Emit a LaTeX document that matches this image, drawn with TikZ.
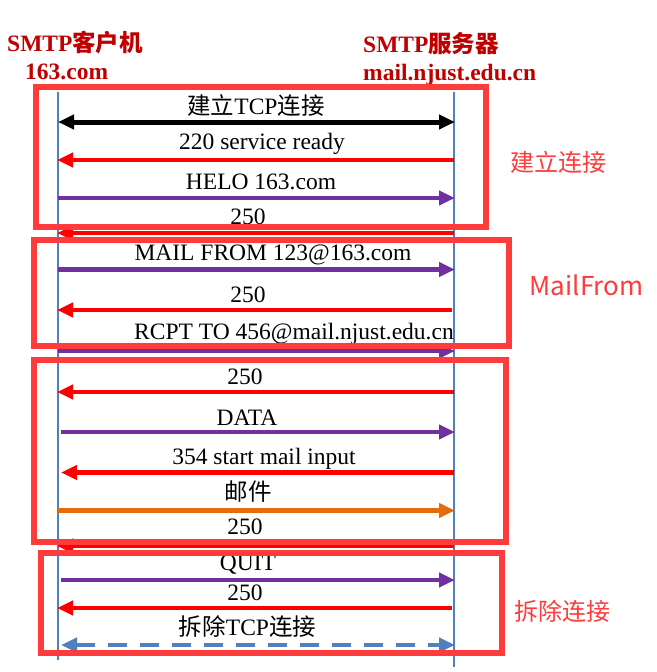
\documentclass[tikz,border=0pt]{standalone}
\usepackage{fontspec}
\setmainfont{Liberation Serif}
\newfontfamily\cjk{Noto Sans CJK SC}
\usetikzlibrary{arrows.meta}
\definecolor{boxred}{RGB}{255,59,59}
\definecolor{hostred}{RGB}{192,0,0}
\definecolor{msgpurple}{RGB}{112,48,160}
\definecolor{msgorange}{RGB}{228,108,10}
\definecolor{lifeblue}{RGB}{79,129,189}
\definecolor{msgred}{RGB}{255,0,0}
\tikzset{
  lifeline/.style={draw=lifeblue,line width=1.5pt},
  headtip/.tip={Triangle[length=16pt,width=14pt]},
  msgright/.style={line width=4.5pt,-headtip},
  msgleft/.style={line width=4.5pt,headtip-},
  msgboth/.style={line width=5pt,headtip-headtip},
  msglbl/.style={anchor=base,inner sep=0pt,font=\fontsize{23.5}{24}\selectfont},
  phasebox/.style={draw=boxred,line width=6pt,inner sep=0pt},
  phaselbl/.style={text=boxred,inner sep=0pt,font=\cjk\fontsize{24}{24}\selectfont},
  hostlbl/.style={anchor=base west,inner sep=0pt,text=hostred,font=\bfseries\fontsize{23.5}{24}\selectfont}
}
\begin{document}
\begin{tikzpicture}[x=1pt,y=-1pt]
\useasboundingbox (0,0) rectangle (656,672);

% host labels
\node[hostlbl] (h1) at (7,51) {SMTP{\cjk\bfseries 客户机}};
\node[hostlbl] (h2) at (25,79) {163.com};
\node[hostlbl] (h3) at (363,52) {SMTP{\cjk\bfseries 服务器}};
\node[hostlbl] (h4) at (363,80) {mail.njust.edu.cn};

% lifelines
\coordinate (ctop) at (58,92);
\coordinate (cbot) at (58,660);
\coordinate (stop) at (454,92);
\coordinate (sbot) at (454,667);
\draw[lifeline] (ctop) -- (cbot);
\draw[lifeline] (stop) -- (sbot);

% messages
\coordinate (c1) at (58,122);   \coordinate (s1) at (455,122);
\coordinate (c2) at (57,160);   \coordinate (s2) at (454,160);
\coordinate (c3) at (58,198);   \coordinate (s3) at (455,198);
\coordinate (c4) at (57,233);   \coordinate (s4) at (454,233);
\coordinate (c5) at (58,269.5); \coordinate (s5) at (455,269.5);
\coordinate (c6) at (57,310);   \coordinate (s6) at (452,310);
\coordinate (c7) at (58,351);   \coordinate (s7) at (455,351);
\coordinate (c8) at (57,392);   \coordinate (s8) at (454,392);
\coordinate (c9) at (61,432);   \coordinate (s9) at (455,432);
\coordinate (c10) at (61,472.5); \coordinate (s10) at (454,472.5);
\coordinate (c11) at (58,510.5); \coordinate (s11) at (455,510.5);
\coordinate (c12) at (57,546);  \coordinate (s12) at (454,546);
\coordinate (c13) at (61,580);  \coordinate (s13) at (455,580);
\coordinate (c14) at (57,608);  \coordinate (s14) at (452,608);
\coordinate (c15) at (61,645);  \coordinate (s15) at (455,645);

\draw[msgboth,draw=black] (c1) -- (s1);
\draw[msgleft,draw=msgred] (c2) -- (s2);
\draw[msgright,draw=msgpurple] (c3) -- (s3);
\draw[msgleft,draw=msgred] (c4) -- (s4);
\draw[msgright,draw=msgpurple] (c5) -- (s5);
\draw[msgleft,draw=msgred] (c6) -- (s6);
\draw[msgright,draw=msgpurple] (c7) -- (s7);
\draw[msgleft,draw=msgred] (c8) -- (s8);
\draw[msgright,draw=msgpurple] (c9) -- (s9);
\draw[msgleft,draw=msgred] (c10) -- (s10);
\draw[msgright,draw=msgorange,line width=5pt] (c11) -- (s11);
\draw[msgleft,draw=msgred] (c12) -- (s12);
\draw[msgright,draw=msgpurple] (c13) -- (s13);
\draw[msgleft,draw=msgred] (c14) -- (s14);
\draw[msgboth,draw=lifeblue,line width=4.5pt,dash pattern=on 19pt off 13pt] (c15) -- (s15);

\node[msglbl] (l1) at (256,114) {{\cjk 建立}TCP{\cjk 连接}};
\node[msglbl] (l2) at (262,149) {220 service ready};
\node[msglbl] (l3) at (261,189) {HELO 163.com};
\node[msglbl] (l4) at (248,224) {250};
\node[msglbl] (l5) at (273,260) {MAIL FROM 123@163.com};
\node[msglbl] (l6) at (248,302) {250};
\node[msglbl] (l7) at (294,339) {RCPT TO 456@mail.njust.edu.cn};
\node[msglbl] (l8) at (245,384) {250};
\node[msglbl] (l9) at (247,425) {DATA};
\node[msglbl] (l10) at (264,464) {354 start mail input};
\node[msglbl] (l11) at (248,500) {{\cjk 邮件}};
\node[msglbl] (l12) at (245,534) {250};
\node[msglbl] (l13) at (248,570) {QUIT};
\node[msglbl] (l14) at (245,600.5) {250};
\node[msglbl] (l15) at (247.5,635) {{\cjk 拆除}TCP{\cjk 连接}};

% phase boxes
\node[phasebox,minimum width=450pt,minimum height=140pt] (p1) at (260.5,157) {};
\node[phasebox,minimum width=475pt,minimum height=105.5pt] (p2) at (271,292.75) {};
\node[phasebox,minimum width=472pt,minimum height=182.6pt] (p3) at (269.7,451) {};
\node[phasebox,minimum width=461pt,minimum height=100pt] (p4) at (271.5,603) {};

% phase labels
\node[phaselbl] (t1) at (558.7,162.5) {建立连接};
\node[phaselbl,font=\cjk\fontsize{26}{26}\selectfont] (t2) at (586.7,285) {MailFrom};
\node[phaselbl] (t4) at (562.5,611) {拆除连接};
\end{tikzpicture}
\end{document}
